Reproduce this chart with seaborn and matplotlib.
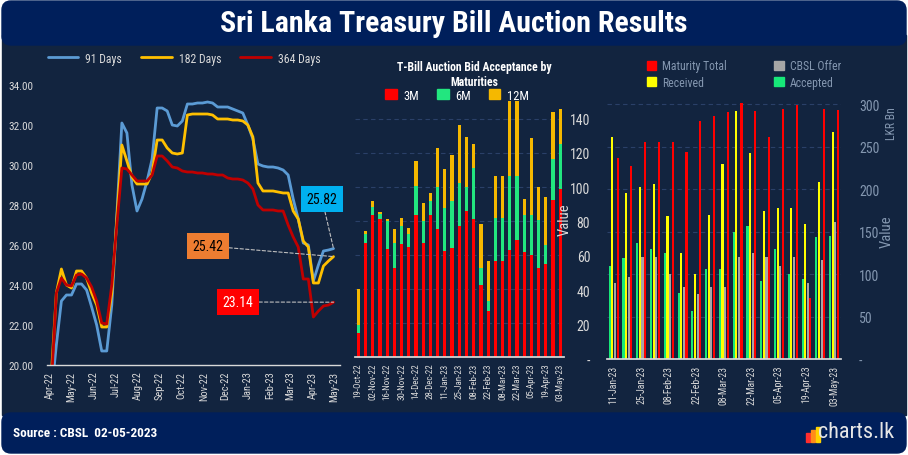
import numpy as np
import pandas as pd
import matplotlib
matplotlib.use("Agg")
import matplotlib.pyplot as plt
import matplotlib.dates as mdates
from matplotlib.patches import FancyBboxPatch, Rectangle, Patch
from matplotlib.lines import Line2D
from matplotlib.ticker import FuncFormatter
from matplotlib.transforms import IdentityTransform
import seaborn as sns

# ---- left chart: weekly T-bill yields (%)
weeks = pd.date_range("2022-04-03", periods=57, freq="7D")
r91 = [18.5, 21.0, 23.2, 23.5, 23.5, 24.05, 24.05, 23.75, 22.9, 22.0, 20.7, 20.7, 23.0,
       27.5, 32.1, 31.6, 29.0, 27.7, 28.3, 29.2, 30.3, 32.85, 32.85, 32.7, 32.0, 31.95,
       32.2, 33.05, 33.05, 33.1, 33.1, 33.15, 33.1, 32.9, 32.9, 32.9, 32.8, 32.7, 32.6,
       32.0, 31.3, 30.05, 29.95, 29.9, 29.9, 29.85, 29.75, 29.5, 28.3, 27.3, 26.1, 26.0,
       24.2, 25.0, 25.7, 25.75, 25.82]
r182 = [19.5, 23.6, 24.8, 24.0, 23.85, 24.7, 24.7, 24.35, 23.6, 23.0, 21.9, 21.9, 23.6,
        27.3, 31.0, 30.2, 29.4, 29.05, 29.05, 29.05, 29.6, 31.25, 31.25, 30.85, 30.6, 30.55,
        30.6, 32.5, 32.55, 32.55, 32.55, 32.55, 32.5, 32.3, 32.3, 32.3, 32.25, 32.25, 32.2,
        32.0, 31.4, 29.1, 28.7, 28.7, 28.7, 28.65, 28.6, 28.6, 27.7, 27.3, 26.2, 25.9,
        24.1, 24.1, 24.95, 25.2, 25.42]
r364 = [19.0, 23.6, 24.35, 24.0, 23.95, 24.5, 24.55, 24.35, 23.9, 23.2, 22.1, 22.05, 24.0,
        27.0, 29.85, 29.8, 29.5, 29.2, 29.2, 29.2, 29.5, 30.45, 30.45, 30.2, 29.9, 29.85,
        29.7, 29.65, 29.65, 29.6, 29.6, 29.55, 29.55, 29.5, 29.5, 29.35, 29.3, 29.3, 29.25,
        29.1, 28.8, 28.0, 27.75, 27.75, 27.75, 27.7, 27.7, 27.0, 26.4, 25.9, 24.3, 24.3,
        22.4, 22.7, 22.95, 23.0, 23.14]
tenors = ["91 Days", "182 Days", "364 Days"]

# ---- middle chart: accepted bids by maturity
mid_weeks = pd.date_range("2022-10-19", "2023-05-03", freq="7D")
m3 = [14.0, 66.9, 83.4, 81.0, 63.8, 52.6, 66.3, 64.9, 83.5, 67.3, 83.5, 75.1, 62.2, 63.9, 77.1,
      85.7, 81.0, 42.2, 26.9, 56.3, 56.3, 62.8, 68.6, 61.6, 59.8, 52.2, 54.5, 92.2, 98.6]
m6 = [4.6, 5.3, 5.1, 3.0, 16.2, 14.7, 10.7, 7.7, 16.9, 12.9, 8.1, 24.9, 25.3, 27.7, 25.1,
      14.1, 30.0, 10.4, 5.9, 25.3, 25.3, 43.5, 37.7, 21.8, 23.6, 28.2, 11.2, 24.1, 26.5]
m12 = [21.7, 1.8, 3.1, 1.5, 1.0, 7.8, 5.0, 3.5, 14.7, 10.2, 5.1, 22.8, 22.9, 27.0, 34.1,
       29.8, 14.1, 25.4, 23.5, 24.7, 24.7, 44.1, 44.1, 9.4, 45.2, 19.4, 28.2, 27.6, 20.6]

# ---- right chart: auction totals (LKR Bn)
right_weeks = pd.date_range("2023-01-11", "2023-05-03", freq="7D")
accepted = [110, 119, 137, 130, 125, 78, 57, 106, 106, 150, 157, 92, 129, 100, 94, 144, 145]
received = [261, 195, 202, 206, 168, 125, 100, 169, 229, 292, 242, 174, 178, 178, 159, 208, 267]
cbsl_offer = [89, 96, 120, 120, 100, 85, 76, 85, 85, 120, 125, 120, 110, 120, 90, 116, 161]
maturity_total = [237, 227, 255, 255, 255, 243, 280, 286, 291, 301, 292, 261, 294, 299, 72, 294, 293]

BODY = "#12243f"
BAR = "#001f5b"
TXT = "#d9d9d9"
MUTED = "#8497b0"
GRID = "#2a4068"
line_colors = ["#5b9bd5", "#ffc000", "#c00000"]
C3, C6, C12 = "#ff0000", "#22e67f", "#f5b800"
R_ACC, R_REC, R_CBSL, R_MAT = "#17e879", "#ffff00", "#a6a6a6", "#ff0000"

sns.set_theme(style="dark")
plt.rcParams["font.family"] = ["Roboto Condensed", "DejaVu Sans"]
plt.rcParams["axes.unicode_minus"] = False

W, H = 908, 456
fig = plt.figure(figsize=(W / 100, H / 100), dpi=100, facecolor="white")


def box(x0, y0, x1, y1):
    # pixel box with origin top-left -> figure fraction rect
    return [x0 / W, 1 - y1 / H, (x1 - x0) / W, (y1 - y0) / H]


px = IdentityTransform()
fig.patches.append(Rectangle((2, H - 416), 904, 380, transform=px, color=BODY, zorder=-10))
fig.patches.append(FancyBboxPatch((2, H - 46), 904, 44, boxstyle="round,pad=0,rounding_size=9",
                                  transform=px, color=BAR, zorder=-9))
fig.patches.append(FancyBboxPatch((2, H - 454), 904, 40, boxstyle="round,pad=0,rounding_size=9",
                                  transform=px, color=BAR, zorder=-9))

fig.text(454 / W, 1 - 24 / H, "Sri Lanka Treasury Bill Auction Results", ha="center", va="center",
         color="white", fontsize=21.5, fontweight="bold")
fig.text(13 / W, 1 - 434 / H, "Source : CBSL  02-05-2023", ha="left", va="center",
         color="white", fontsize=9.5, fontweight="bold")
fig.text(894 / W, 1 - 433 / H, "charts.lk", ha="right", va="center", color="#e6e6e6", fontsize=16)
for i, c in enumerate(["#ff2d2d", "#ff8c1a", "#ffd200"]):
    fig.patches.append(Rectangle((806 + i * 5, H - 443), 4, 9 + i * 3, transform=px, color=c))


def dash_zero(v, pos):
    return "-" if abs(v) < 1e-9 else f"{v:.0f}"


# ================= left: yield lines
ax1 = fig.add_axes(box(47, 76, 340, 366))
ax1.set_facecolor("none")
yields = pd.DataFrame({"date": weeks, tenors[0]: r91, tenors[1]: r182, tenors[2]: r364})
yields = yields.melt(id_vars="date", var_name="tenor", value_name="rate")
sns.lineplot(data=yields, x="date", y="rate", hue="tenor", hue_order=tenors,
             palette=line_colors, linewidth=2, ax=ax1, legend=False)
ax1.set_ylim(20, 34.5)
ax1.set_xlim(pd.Timestamp("2022-03-28"), pd.Timestamp("2023-05-09"))
ax1.set_yticks(np.arange(20, 35, 2))
ax1.yaxis.set_major_formatter(FuncFormatter(lambda v, p: f"{v:.2f}"))
ax1.xaxis.set_major_locator(mdates.MonthLocator())
ax1.xaxis.set_major_formatter(mdates.DateFormatter("%b-%y"))
ax1.tick_params(axis="x", rotation=90, labelsize=7.5, colors=TXT, length=0, pad=4)
ax1.tick_params(axis="y", labelsize=8, colors=TXT, length=0, pad=10)
ax1.set_xlabel("")
ax1.set_ylabel("")
ax1.grid(False)
for s in ["top", "right", "left"]:
    ax1.spines[s].set_visible(False)
ax1.spines["bottom"].set_color(TXT)
ax1.spines["bottom"].set_linewidth(1)

ax1.legend([Line2D([], [], color=c, lw=2) for c in line_colors], tenors, loc="center",
           bbox_to_anchor=(184 / W, 1 - 59 / H), bbox_transform=fig.transFigure, ncol=3,
           frameon=False, handlelength=2.6, handletextpad=0.6, columnspacing=1.6,
           fontsize=8.5, labelcolor=TXT)

last_labels = [
    (r91[-1], "#00b0f0", "black", (322, 200)),
    (r182[-1], "#ed7d31", "black", (208, 247)),
    (r364[-1], "#ff0000", "white", (238, 303)),
]
for val, fc, tc, (bx, by) in last_labels:
    ax1.annotate(f"{val:.2f}", xy=(weeks[-1], val), xytext=(bx, H - by),
                 textcoords="figure pixels", ha="center", va="center", fontsize=10, color=tc,
                 bbox=dict(boxstyle="square,pad=0.4", fc=fc, ec="none"),
                 arrowprops=dict(arrowstyle="-", ls=(0, (3, 2)), color="#bfbfbf", lw=0.8,
                                 shrinkA=0, shrinkB=0))

# ================= middle: stacked acceptance by maturity
ax2 = fig.add_axes(box(354.7, 100, 563.9, 358))
ax2.set_facecolor("none")
mid_labels = [d.strftime("%d-%b-%y") for d in mid_weeks]
s3 = np.array(m3)
s6 = s3 + np.array(m6)
s12 = s6 + np.array(m12)
for top, c in [(s12, C12), (s6, C6), (s3, C3)]:
    sns.barplot(x=mid_labels, y=top, color=c, width=0.45, saturation=1, errorbar=None,
                linewidth=0, edgecolor="none", ax=ax2)
ax2.set_ylim(0, 151.8)
ax2.set_xlim(-0.5, len(mid_labels) - 0.5)
ax2.set_yticks(np.arange(20, 141, 20))
ax2.yaxis.grid(True, ls=(0, (4, 3)), color=GRID, lw=0.8)
ax2.xaxis.grid(False)
ax2.set_axisbelow(True)
ax2.tick_params(axis="y", left=False, labelleft=False)
ax2.set_xticks(range(0, len(mid_labels), 2))
ax2.set_xticklabels(mid_labels[::2], rotation=90, fontsize=6.5, color=TXT)
ax2.tick_params(axis="x", length=0, pad=4)
for s in ["top", "right", "left"]:
    ax2.spines[s].set_visible(False)
ax2.spines["bottom"].set_color(TXT)

fig.text(474 / W, 1 - 68 / H, "T-Bill Auction Bid Acceptance by", ha="center", va="center",
         color="white", fontsize=8.5, fontweight="bold")
fig.text(474 / W, 1 - 83 / H, "Maturities", ha="center", va="center",
         color="white", fontsize=8.5, fontweight="bold")
ax2.legend(handles=[Patch(color=C3, label="3M"), Patch(color=C6, label="6M"),
                    Patch(color=C12, label="12M")],
           loc="center", bbox_to_anchor=(457 / W, 1 - 96 / H), bbox_transform=fig.transFigure,
           ncol=3, frameon=False, handlelength=0.9, handleheight=0.9, columnspacing=1.5,
           handletextpad=0.5, fontsize=9, labelcolor="white")

# ================= right: grouped auction totals
ax3 = fig.add_axes(box(606.8, 100, 840.9, 360))
ax3.set_facecolor("none")
ax3v = ax3.twinx()
right_labels = [d.strftime("%d-%b-%y") for d in right_weeks]
series = ["Accepted", "Received", "CBSL Offer", "Maturity Total"]
auction = pd.DataFrame({"week": right_labels, series[0]: accepted, series[1]: received,
                        series[2]: cbsl_offer, series[3]: maturity_total})
auction = auction.melt(id_vars="week", var_name="series", value_name="value")
sns.barplot(data=auction, x="week", y="value", hue="series", hue_order=series,
            palette=[R_ACC, R_REC, R_CBSL, R_MAT], width=0.76, gap=0.2, saturation=1,
            errorbar=None, legend=False, linewidth=0, edgecolor="none", ax=ax3)
ax3.set_ylim(0, 305.9)
ax3.set_xlim(-0.5, len(right_labels) - 0.5)
ax3.set_yticks(np.arange(0, 301, 50))
ax3.yaxis.set_major_formatter(FuncFormatter(dash_zero))
ax3.yaxis.grid(True, ls=(0, (4, 3)), color=GRID, lw=0.8)
ax3.xaxis.grid(False)
ax3.set_axisbelow(True)
ax3.set_xticks(range(0, len(right_labels), 2))
ax3.set_xticklabels(right_labels[::2], rotation=90, fontsize=7, color=TXT)
ax3.tick_params(axis="x", length=0, pad=4)
ax3.set_xlabel("")
for s in ["top", "right", "left"]:
    ax3.spines[s].set_visible(False)
ax3.spines["bottom"].set_color(TXT)

ax3v.set_ylim(0, 151.2)
ax3v.set_yticks(np.arange(0, 141, 20))
ax3v.yaxis.set_major_formatter(FuncFormatter(dash_zero))
for s in ax3v.spines.values():
    s.set_visible(False)
ax3v.grid(False)

# twinx puts the first axis on the left; swap so LKR Bn is on the right
ax3.yaxis.tick_right()
ax3.yaxis.set_label_position("right")
ax3.tick_params(axis="y", labelsize=10, colors=MUTED, length=0, pad=13)
ax3.set_ylabel("LKR Bn", color=MUTED, fontsize=8.5)
ax3.yaxis.set_label_coords(1.188, 0.908)
ax3v.yaxis.tick_left()
ax3v.yaxis.set_label_position("left")
ax3v.tick_params(axis="y", labelsize=10, colors=TXT, length=0, pad=12)
ax3v.set_ylabel("Value", color=TXT, fontsize=10.5)
ax3v.yaxis.set_label_coords(-0.15, 0.54)
fig.text(887 / W, 1 - 232 / H, "Value", rotation=90, ha="center", va="center",
         color=MUTED, fontsize=10.5)

ax3.legend(handles=[Patch(color=R_MAT, label="Maturity Total"), Patch(color=R_REC, label="Received"),
                    Patch(color=R_CBSL, label="CBSL Offer"), Patch(color=R_ACC, label="Accepted")],
           loc="center", bbox_to_anchor=(744 / W, 1 - 75 / H), bbox_transform=fig.transFigure,
           ncol=2, frameon=False, handlelength=0.8, handleheight=0.8, columnspacing=4.0,
           handletextpad=0.5, labelspacing=0.3, fontsize=8.5, labelcolor=MUTED)

fig.savefig("out.png", dpi=100, facecolor="white")
